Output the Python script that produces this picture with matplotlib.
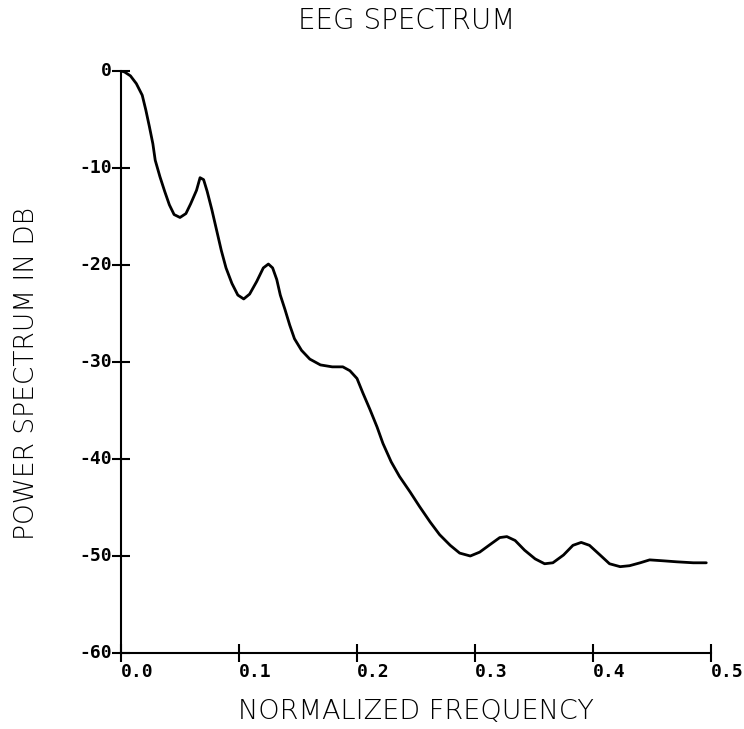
import numpy as np
import matplotlib
matplotlib.use('Agg')
import matplotlib.pyplot as plt

# Curve (normalized frequency, dB)
freq = [0.000, 0.003, 0.008, 0.013, 0.018, 0.021, 0.024, 0.027, 0.029, 0.033,
        0.037, 0.041, 0.045, 0.050, 0.055, 0.059, 0.064, 0.067, 0.070, 0.073,
        0.077, 0.081, 0.085, 0.089, 0.094, 0.099, 0.104, 0.109, 0.115, 0.1206,
        0.1249, 0.1285, 0.132, 0.135, 0.139, 0.143, 0.147, 0.153, 0.160, 0.169,
        0.179, 0.188, 0.194, 0.200, 0.205, 0.211, 0.217, 0.222, 0.229, 0.236,
        0.245, 0.253, 0.262, 0.270, 0.279, 0.287, 0.296, 0.304, 0.313, 0.321,
        0.327, 0.334, 0.342, 0.351, 0.359, 0.366, 0.375, 0.383, 0.390, 0.397,
        0.406, 0.414, 0.423, 0.431, 0.440, 0.448, 0.460, 0.471, 0.485, 0.496]
power_db = [0.0, -0.1, -0.5, -1.3, -2.5, -4.0, -5.7, -7.5, -9.2, -10.9,
            -12.4, -13.8, -14.8, -15.1, -14.7, -13.7, -12.3, -11.0, -11.2, -12.4,
            -14.3, -16.4, -18.5, -20.3, -21.9, -23.1, -23.5, -23.0, -21.7, -20.3,
            -19.9, -20.3, -21.5, -23.1, -24.6, -26.2, -27.6, -28.8, -29.7, -30.3,
            -30.5, -30.5, -30.9, -31.7, -33.2, -34.9, -36.7, -38.4, -40.3, -41.8,
            -43.4, -44.9, -46.5, -47.8, -48.9, -49.7, -50.0, -49.6, -48.8, -48.1,
            -48.0, -48.4, -49.4, -50.3, -50.8, -50.7, -49.9, -48.9, -48.6, -48.9,
            -49.9, -50.8, -51.1, -51.0, -50.7, -50.4, -50.5, -50.6, -50.7, -50.7]

xticks = [0.0, 0.1, 0.2, 0.3, 0.4, 0.5]
xticklabels = ['0.0', '0.1', '0.2', '0.3', '0.4', '0.5']
yticks = [0, -10, -20, -30, -40, -50, -60]
yticklabels = ['0', '-10', '-20', '-30', '-40', '-50', '-60']

fig = plt.figure(figsize=(7.44, 7.29), dpi=100)
ax = fig.add_axes([121/744, 1 - 653/729, 590/744, 582/729])

ax.plot(freq, power_db, color='black', linewidth=2.0,
        solid_joinstyle='round', solid_capstyle='round')

ax.set_xlim(0, 0.5)
ax.set_ylim(-60, 0)
for s in ['top', 'right']:
    ax.spines[s].set_visible(False)
for s in ['left', 'bottom']:
    ax.spines[s].set_linewidth(1.5)

ax.set_xticks(xticks)
ax.set_yticks(yticks)
ax.set_xticklabels(xticklabels, family='DejaVu Sans Mono', weight='bold',
                   fontsize=13, ha='left')
ax.set_yticklabels(yticklabels, family='DejaVu Sans Mono', weight='bold',
                   fontsize=13, va='center')
ax.tick_params(axis='both', direction='inout', length=13, width=1.5)
ax.tick_params(axis='x', pad=1)
ax.tick_params(axis='y', pad=0)

fig.text(407/744, 1 - 21/729, 'EEG SPECTRUM', ha='center', va='center',
         fontsize=20, family='DejaVu Sans', weight='light')
fig.text(416/744, 1 - 712/729, 'NORMALIZED FREQUENCY', ha='center', va='center',
         fontsize=19.5, family='DejaVu Sans', weight='light')
fig.text(27/744, 1 - 373/729, 'POWER SPECTRUM IN DB', ha='center', va='center',
         rotation=90, fontsize=19, family='DejaVu Sans', weight='light')

fig.savefig('out.png', dpi=100, facecolor='white')
